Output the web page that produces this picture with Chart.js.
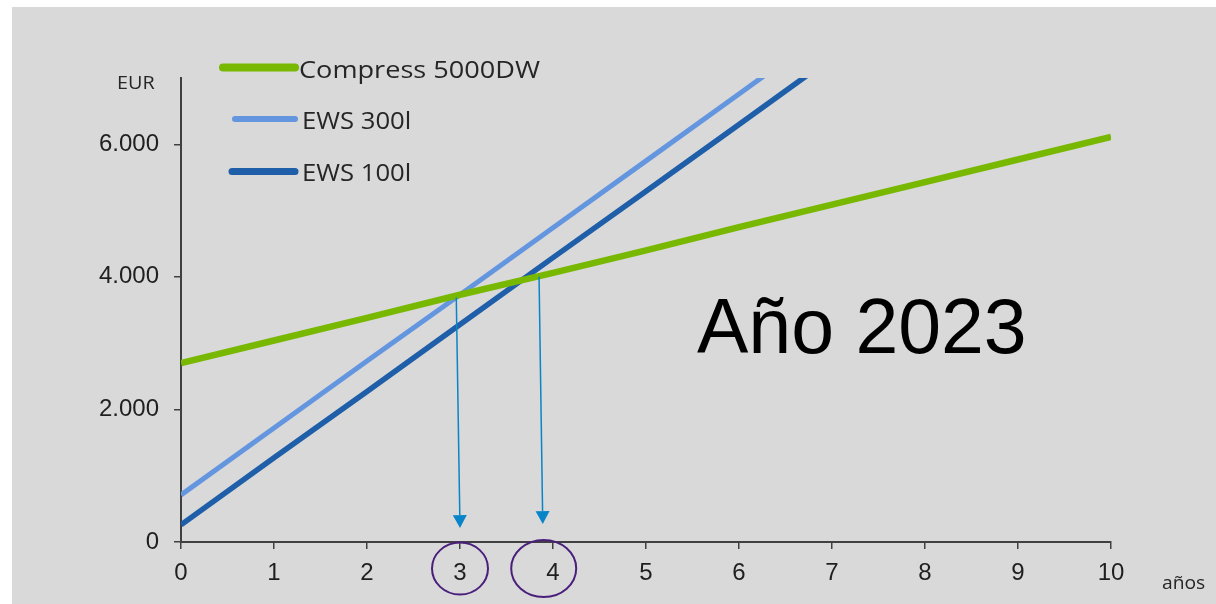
<!DOCTYPE html>
<html>
<head>
<meta charset="utf-8">
<script src="https://cdn.jsdelivr.net/npm/chart.js@4/dist/chart.umd.min.js"></script>
<style>
  html, body { margin: 0; padding: 0; background: #ffffff; }
  #wrap { width: 1216px; height: 604px; position: relative; }
</style>
</head>
<body>
<div id="wrap"><canvas id="c" width="1216" height="604"></canvas></div>
<script>
// Cumulative cost (EUR) per year of operation
const years = [0, 1, 2, 3, 4, 5, 6, 7, 8, 9, 10];
const compress5000dw = [2700, 3040, 3380, 3730, 4060, 4400, 4750, 5090, 5430, 5770, 6110];
const ews300l = [710, 1720, 2730, 3730, 4740, 5750, 6760, 7770, 8780, 9790, 10800];
const ews100l = [260, 1270, 2270, 3280, 4290, 5290, 6300, 7310, 8310, 9320, 10330];
const seriesNames = ['Compress 5000DW', 'EWS 300l', 'EWS 100l'];
const yTickValues = [0, 2000, 4000, 6000];
const yMax = 7000;

// Break-even markers: arrow from crossing point down to the year axis
const breakEvenArrows = [
  { from: [2.96, 3690], to: [3.0, 210] },
  { from: [3.85, 4000], to: [3.89, 270] }
];
const circledYears = [3.0, 3.9];
const yearLabel = 'Año 2023';
const yUnit = 'EUR';
const xUnit = 'años';

const colors = ['#78b800', '#6496e0', '#1f5ea8'];
const widths = [6.5, 5, 5.5];

const toPoints = arr => years.map((x, i) => ({ x, y: arr[i] }));
const fmt = v => String(v).replace(/\B(?=(\d{3})+(?!\d))/g, '.');

const background = {
  id: 'background',
  beforeDraw(chart) {
    const ctx = chart.ctx;
    ctx.save();
    ctx.fillStyle = '#ffffff';
    ctx.fillRect(0, 0, chart.width, chart.height);
    ctx.fillStyle = '#d9d9d9';
    ctx.fillRect(12, 7, chart.width - 12, chart.height - 7);
    ctx.restore();
  }
};

function stretchedText(ctx, text, x, y, sx) {
  ctx.save();
  ctx.translate(x, y);
  ctx.scale(sx, 1);
  ctx.fillText(text, 0, 0);
  ctx.restore();
}

const annotations = {
  id: 'annotations',
  afterDatasetsDraw(chart) {
    const ctx = chart.ctx;
    const xs = chart.scales.x, ys = chart.scales.y;
    ctx.save();
    // arrows
    ctx.strokeStyle = '#0a84c8';
    ctx.fillStyle = '#0a84c8';
    ctx.lineWidth = 1.5;
    breakEvenArrows.forEach(a => {
      const x1 = xs.getPixelForValue(a.from[0]), y1 = ys.getPixelForValue(a.from[1]);
      const x2 = xs.getPixelForValue(a.to[0]), y2 = ys.getPixelForValue(a.to[1]);
      const ang = Math.atan2(y2 - y1, x2 - x1);
      const hl = 13, hw = 7;
      const bx = x2 - hl * Math.cos(ang), by = y2 - hl * Math.sin(ang);
      ctx.beginPath();
      ctx.moveTo(x1, y1);
      ctx.lineTo(bx, by);
      ctx.stroke();
      ctx.beginPath();
      ctx.moveTo(x2, y2);
      ctx.lineTo(bx + hw * Math.sin(ang), by - hw * Math.cos(ang));
      ctx.lineTo(bx - hw * Math.sin(ang), by + hw * Math.cos(ang));
      ctx.closePath();
      ctx.fill();
    });
    ctx.restore();
  },
  afterDraw(chart) {
    const ctx = chart.ctx;
    const xs = chart.scales.x, area = chart.chartArea;
    ctx.save();
    // circles around break-even years
    ctx.strokeStyle = '#4a1f7c';
    ctx.lineWidth = 2;
    const radii = [[28, 26], [32.5, 28.5]];
    circledYears.forEach((v, i) => {
      ctx.beginPath();
      ctx.ellipse(xs.getPixelForValue(v), area.bottom + 26.5, radii[i][0], radii[i][1], 0, 0, Math.PI * 2);
      ctx.stroke();
    });

    // legend
    ctx.lineCap = 'round';
    ctx.textBaseline = 'alphabetic';
    ctx.font = '24px "Open Sans"';
    ctx.fillStyle = '#262626';
    const rows = [
      { y: 67.5, x0: 223, base: 77.5 },
      { y: 119, x0: 235, base: 128.5 },
      { y: 171.5, x0: 232, base: 180.5 }
    ];
    chart.data.datasets.forEach((ds, i) => {
      const r = rows[i];
      ctx.strokeStyle = ds.borderColor;
      ctx.lineWidth = i === 0 ? 8 : (i === 1 ? 6 : 7);
      ctx.beginPath();
      ctx.moveTo(r.x0, r.y);
      ctx.lineTo(295, r.y);
      ctx.stroke();
      stretchedText(ctx, ds.label, i === 0 ? 299 : 302, r.base, i === 0 ? 1.13 : 1.07);
    });

    // axis units
    ctx.font = '18px "Open Sans"';
    stretchedText(ctx, yUnit, 117, 88.5, 1.1);
    stretchedText(ctx, xUnit, 1162, 588.5, 1.07);

    // year caption
    ctx.font = '77px "Liberation Sans"';
    ctx.fillStyle = '#000000';
    ctx.fillText(yearLabel, 697, 353);
    ctx.restore();
  }
};

new Chart(document.getElementById('c'), {
  type: 'line',
  data: {
    datasets: [
      { label: seriesNames[0], data: toPoints(compress5000dw) },
      { label: seriesNames[1], data: toPoints(ews300l) },
      { label: seriesNames[2], data: toPoints(ews100l) }
    ].map((d, i) => Object.assign(d, {
      borderColor: colors[i],
      backgroundColor: colors[i],
      borderWidth: widths[i],
      pointRadius: 0,
      tension: 0,
      fill: false
    }))
  },
  options: {
    responsive: false,
    animation: false,
    devicePixelRatio: 1,
    layout: { padding: { top: 78, right: 105, left: 0, bottom: 0 } },
    plugins: { legend: { display: false }, tooltip: { enabled: false } },
    scales: {
      x: {
        type: 'linear',
        min: 0,
        max: 10,
        afterFit: s => { s.height = 62; },
        border: { display: true, color: '#404040', width: 2 },
        grid: { drawOnChartArea: false, drawTicks: true, tickLength: 7, color: '#404040', lineWidth: 1.5 },
        ticks: {
          stepSize: 1,
          padding: 10,
          color: '#1f1f1f',
          font: { family: '"Liberation Sans"', size: 24 }
        }
      },
      y: {
        min: 0,
        max: yMax,
        afterFit: s => { s.width = 181; },
        afterBuildTicks: s => { s.ticks = yTickValues.map(v => ({ value: v })); },
        border: { display: true, color: '#404040', width: 2 },
        grid: { drawOnChartArea: false, drawTicks: true, tickLength: 7, color: '#404040', lineWidth: 1.5 },
        ticks: {
          padding: 15,
          color: '#1f1f1f',
          font: { family: '"Liberation Sans"', size: 24 },
          callback: v => fmt(v)
        }
      }
    }
  },
  plugins: [background, annotations]
});
</script>
</body>
</html>
